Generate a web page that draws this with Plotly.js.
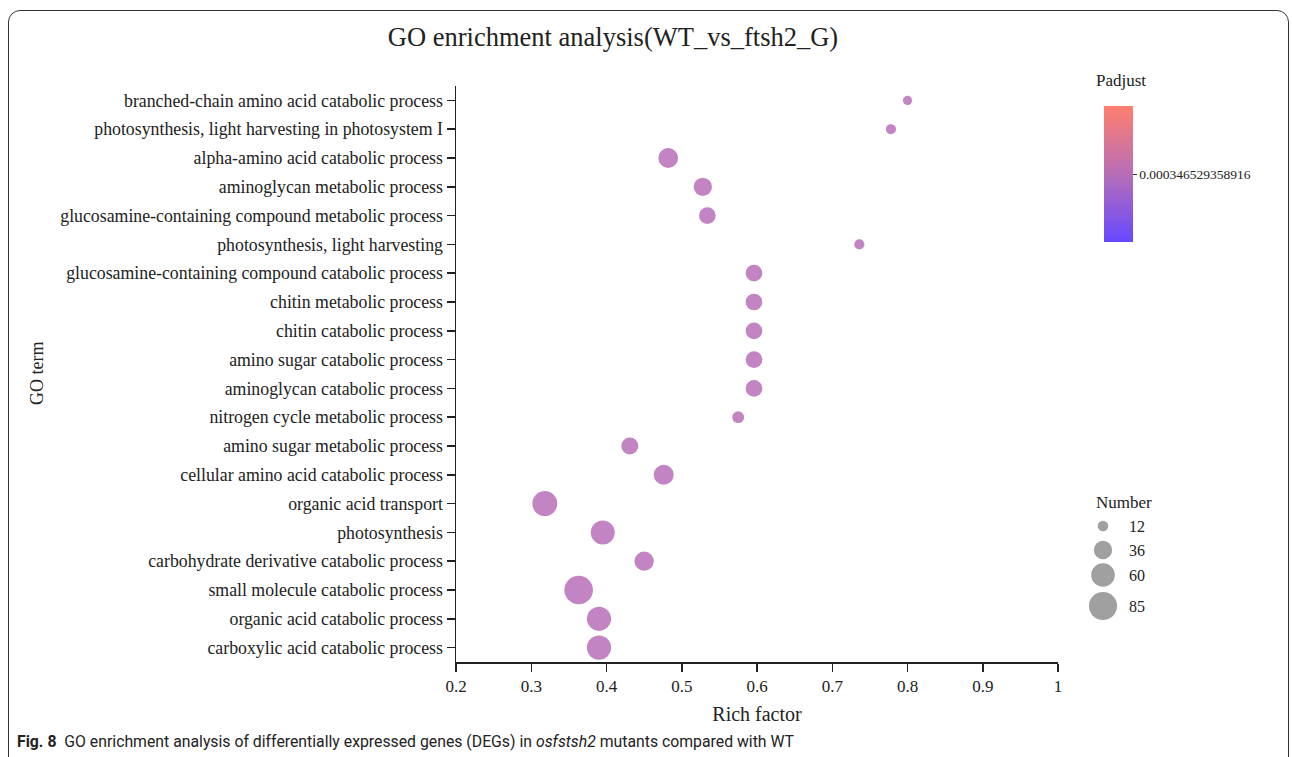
<!DOCTYPE html>
<html>
<head>
<meta charset="utf-8">
<script src="https://cdn.plot.ly/plotly-3.0.1.min.js"></script>
<style>
  html, body { margin: 0; padding: 0; background: #fff; overflow: hidden; }
  #frame { position: absolute; left: 8px; top: 10px; width: 1281px; height: 800px;
           border: 1.5px solid #333; border-radius: 12px; box-sizing: border-box; }
  #chart { position: absolute; left: 0; top: 0; width: 1292px; height: 757px; }
</style>
</head>
<body>
<div id="frame"></div>
<div id="chart"></div>
<script>
// ---- data (top to bottom) ----
const terms = [
  "branched-chain amino acid catabolic process",
  "photosynthesis, light harvesting in photosystem I",
  "alpha-amino acid catabolic process",
  "aminoglycan metabolic process",
  "glucosamine-containing compound metabolic process",
  "photosynthesis, light harvesting",
  "glucosamine-containing compound catabolic process",
  "chitin metabolic process",
  "chitin catabolic process",
  "amino sugar catabolic process",
  "aminoglycan catabolic process",
  "nitrogen cycle metabolic process",
  "amino sugar metabolic process",
  "cellular amino acid catabolic process",
  "organic acid transport",
  "photosynthesis",
  "carbohydrate derivative catabolic process",
  "small molecule catabolic process",
  "organic acid catabolic process",
  "carboxylic acid catabolic process"
];
const richFactor = [0.800, 0.778, 0.482, 0.528, 0.534, 0.736, 0.596, 0.596, 0.596, 0.596,
                    0.596, 0.575, 0.431, 0.476, 0.318, 0.395, 0.450, 0.363, 0.390, 0.390];
const geneNumber = [9, 11, 42, 36, 30, 11, 30, 30, 30, 30,
                    30, 15, 31, 43, 67, 62, 40, 88, 63, 63];
const padjValue = 0.000346529358916;
const padjust = terms.map(() => padjValue);
const padjLabel = "0.000346529358916";
const legendSizes = [12, 36, 60, 85];
const xTicks = [0.2, 0.3, 0.4, 0.5, 0.6, 0.7, 0.8, 0.9, 1];
const xTickText = ["0.2", "0.3", "0.4", "0.5", "0.6", "0.7", "0.8", "0.9", "1"];

// ---- layout geometry (pixels) ----
const W = 1292, H = 757;
const ML = 456, MR = 20, MT = 86, MB = 95;
const PW = W - ML - MR, PH = H - MT - MB;
const px = x => (x - ML) / PW;        // pixel x -> paper x
const py = y => (H - MB - y) / PH;    // pixel y -> paper y

const SIZEREF = 0.215;
const serif = "Liberation Serif, Times New Roman, serif";
const ink = "#222";
const legendY = [526, 550, 575, 606];

const main = {
  type: "scatter", mode: "markers",
  x: richFactor, y: terms,
  xaxis: "x", yaxis: "y",
  marker: {
    size: geneNumber, sizemode: "area", sizeref: SIZEREF,
    color: padjust,
    cmin: padjValue * 0.5, cmax: padjValue * 1.5,
    colorscale: [[0, "rgb(102,72,255)"], [0.5, "rgb(183,110,183)"], [1, "rgb(255,127,110)"]],
    opacity: 0.85,
    line: { width: 0 },
    showscale: true,
    colorbar: {
      x: px(1104), xanchor: "left", xpad: 0,
      y: py(174), yanchor: "middle", ypad: 0,
      len: 136, lenmode: "pixels",
      thickness: 29, thicknessmode: "pixels",
      outlinewidth: 0,
      tickvals: [padjValue], ticktext: [padjLabel],
      ticks: "outside", ticklen: 4, tickcolor: "#333",
      tickfont: { family: serif, size: 13.5, color: ink }
    }
  },
  hoverinfo: "x+y",
  showlegend: false
};

const sizeLegend = {
  type: "scatter", mode: "markers",
  x: legendSizes.map(() => 1103),
  y: legendY,
  xaxis: "x2", yaxis: "y2",
  marker: { size: legendSizes, sizemode: "area", sizeref: SIZEREF, color: "rgb(120,120,120)", line: { width: 0 } },
  hoverinfo: "skip", showlegend: false
};

const annotations = [
  { xref: "paper", yref: "paper", x: px(1121), y: py(81), text: "Padjust", showarrow: false,
    xanchor: "center", yanchor: "middle", font: { family: serif, size: 17, color: ink } },
  { xref: "x2", yref: "y2", x: 1124, y: 502, text: "Number", showarrow: false,
    xanchor: "center", yanchor: "middle", font: { family: serif, size: 17, color: ink } },
  ...legendSizes.map((s, i) => ({
    xref: "x2", yref: "y2", x: 1127, y: legendY[i], text: String(s), showarrow: false,
    xanchor: "left", yanchor: "middle", font: { family: serif, size: 16, color: ink }
  })),
  { xref: "paper", yref: "paper", x: px(37), y: py(374), text: "GO term", showarrow: false,
    textangle: -90, xanchor: "center", yanchor: "middle", font: { family: serif, size: 18, color: ink } },
  { xref: "paper", yref: "paper", x: px(15), y: py(741), xanchor: "left", yanchor: "middle",
    showarrow: false, align: "left",
    text: "<b>Fig. 8</b>  GO enrichment analysis of differentially expressed genes (DEGs) in <i>osfstsh2</i> mutants compared with WT",
    font: { family: "Roboto, Liberation Sans, sans-serif", size: 15.8, color: ink } }
];

const layout = {
  width: W, height: H,
  margin: { l: ML, r: MR, t: MT, b: MB },
  paper_bgcolor: "rgba(0,0,0,0)", plot_bgcolor: "rgba(0,0,0,0)",
  title: { text: "GO enrichment analysis(WT_vs_ftsh2_G)", x: 613 / W, xref: "container", xanchor: "center",
           y: 1 - 37 / H, yref: "container", yanchor: "middle",
           font: { family: serif, size: 26.5, color: ink } },
  xaxis: {
    domain: [0, px(1058)], range: [0.2, 1], autorange: false,
    tickvals: xTicks, ticktext: xTickText,
    ticks: "outside", ticklen: 8, tickwidth: 1.5, tickcolor: ink,
    showline: true, linecolor: ink, linewidth: 1.5,
    showgrid: false, zeroline: false,
    tickfont: { family: serif, size: 17, color: ink },
    title: { text: "Rich factor", font: { family: serif, size: 20, color: ink }, standoff: 12 },
    fixedrange: true
  },
  yaxis: {
    domain: [0, 1], type: "category",
    categoryorder: "array", categoryarray: terms,
    range: [terms.length - 0.5, -0.5], autorange: false,
    ticks: "outside", ticklen: 8, tickwidth: 1.5, tickcolor: ink,
    showline: true, linecolor: ink, linewidth: 1.5,
    showgrid: false, zeroline: false,
    tickfont: { family: serif, size: 17.8, color: ink },
    automargin: false,
    fixedrange: true
  },
  xaxis2: { domain: [px(1080), px(1180)], range: [1080, 1180], visible: false, anchor: "y2", fixedrange: true },
  yaxis2: { domain: [py(630), py(490)], range: [630, 490], visible: false, anchor: "x2", fixedrange: true },
  annotations: annotations,
  showlegend: false
};

Plotly.newPlot("chart", [main, sizeLegend], layout, { displayModeBar: false, staticPlot: true });
</script>
</body>
</html>
